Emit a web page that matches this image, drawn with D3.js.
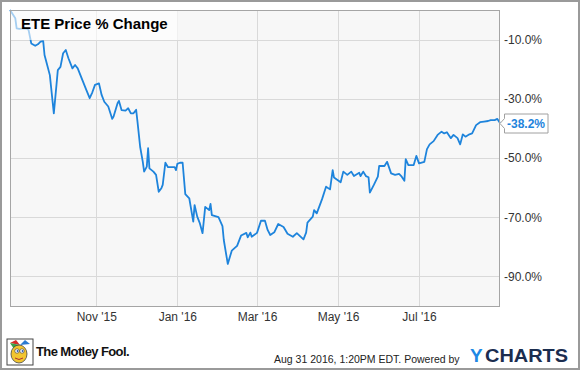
<!DOCTYPE html>
<html>
<head>
<meta charset="utf-8">
<script src="https://cdn.jsdelivr.net/npm/d3@7"></script>
<style>
  body { margin: 0; background: #fff; }
  svg { display: block; font-family: "Liberation Sans", Arial, sans-serif; }
</style>
</head>
<body>
<svg width="580" height="371"></svg>
<script>
// ETE price % change
var dates = [
  '2015-08-28','2015-09-01','2015-09-02','2015-09-04','2015-09-07','2015-09-10','2015-09-11','2015-09-12',
  '2015-09-13','2015-09-16','2015-09-18','2015-09-20','2015-09-22','2015-09-23','2015-09-25','2015-09-27',
  '2015-09-30','2015-10-02','2015-10-03','2015-10-05','2015-10-07','2015-10-09','2015-10-11','2015-10-14',
  '2015-10-16','2015-10-18','2015-10-21','2015-10-24','2015-10-27','2015-10-29','2015-10-31','2015-11-03',
  '2015-11-05','2015-11-07','2015-11-10','2015-11-13','2015-11-14','2015-11-17','2015-11-18','2015-11-20',
  '2015-11-23','2015-11-25','2015-11-27','2015-11-29','2015-12-01','2015-12-02','2015-12-04','2015-12-06',
  '2015-12-07','2015-12-09','2015-12-10','2015-12-11','2015-12-14','2015-12-16','2015-12-18','2015-12-20',
  '2015-12-21','2015-12-23','2015-12-25','2015-12-28','2015-12-30','2015-12-31','2016-01-01','2016-01-03',
  '2016-01-05','2016-01-07','2016-01-10','2016-01-13','2016-01-14','2016-01-16','2016-01-18','2016-01-20',
  '2016-01-22','2016-01-25','2016-01-26','2016-01-27','2016-02-01','2016-02-04','2016-02-05','2016-02-08',
  '2016-02-11','2016-02-15','2016-02-18','2016-02-22','2016-02-23','2016-02-25','2016-02-26','2016-03-01',
  '2016-03-04','2016-03-07','2016-03-09','2016-03-11','2016-03-14','2016-03-17','2016-03-21','2016-03-24',
  '2016-03-28','2016-03-31','2016-04-05','2016-04-07','2016-04-08','2016-04-12','2016-04-13','2016-04-15',
  '2016-04-19','2016-04-22','2016-04-25','2016-04-27','2016-04-28','2016-05-03','2016-05-05','2016-05-08',
  '2016-05-11','2016-05-13','2016-05-17','2016-05-18','2016-05-20','2016-05-22','2016-05-24','2016-05-25',
  '2016-05-28','2016-05-31','2016-06-01','2016-06-05','2016-06-07','2016-06-10','2016-06-13','2016-06-16',
  '2016-06-18','2016-06-20','2016-06-21','2016-06-23','2016-06-27','2016-06-29','2016-07-01','2016-07-05',
  '2016-07-07','2016-07-09','2016-07-12','2016-07-15','2016-07-18','2016-07-20','2016-07-22','2016-07-25',
  '2016-07-27','2016-07-30','2016-08-01','2016-08-03','2016-08-05','2016-08-08','2016-08-10','2016-08-13',
  '2016-08-16','2016-08-19','2016-08-22','2016-08-24','2016-08-27','2016-08-29','2016-08-31'
];
var changes = [
  0, -2.8, -6.2, -6.4, -6.2, -6.4, -6.8, -9.0,
  -11.3, -12.1, -11.6, -10.7, -10.5, -15.2, -18.6, -22.0,
  -34.9, -25.3, -20.3, -19.2, -14.6, -13.5, -16.3, -19.7,
  -18.6, -19.7, -23.1, -26.5, -29.8, -27.8, -25.3, -24.8,
  -28.7, -31.0, -32.6, -36.8, -36.0, -31.5, -30.7, -33.8,
  -34.0, -33.2, -34.9, -34.9, -33.7, -37.7, -46.2, -51.3,
  -54.6, -52.9, -46.7, -53.5, -54.6, -55.7, -61.4, -60.2,
  -59.1, -51.6, -53.1, -53.1, -53.1, -54.1, -52.0, -51.6,
  -51.6, -62.2, -63.6, -71.5, -65.9, -69.8, -72.1, -75.4,
  -66.5, -67.6, -65.5, -69.3, -70.0, -73.0, -77.7, -85.8,
  -81.3, -79.7, -76.2, -75.3, -76.8, -75.2, -76.6, -75.3,
  -71.2, -71.2, -74.3, -76.0, -75.1, -72.3, -73.3, -75.6,
  -76.6, -75.4, -77.5, -75.2, -71.8, -69.8, -67.6, -68.7,
  -63.9, -59.7, -60.6, -54.1, -56.6, -58.2, -54.6, -55.7,
  -54.6, -56.1, -55.0, -56.1, -54.6, -56.1, -56.5, -61.7,
  -59.1, -56.3, -52.7, -52.7, -51.3, -55.2, -55.7, -55.4,
  -56.3, -57.7, -50.4, -52.4, -52.4, -49.3, -51.8, -51.3,
  -47.0, -45.4, -44.3, -42.2, -41.1, -41.7, -41.3, -43.3,
  -42.2, -43.3, -45.4, -42.0, -42.8, -42.0, -41.7, -38.9,
  -37.9, -37.7, -37.5, -37.2, -37.2, -36.8, -38.2
];
var yTicks = [-10, -30, -50, -70, -90];
var xTicks = ['2015-11-01', '2016-01-01', '2016-03-01', '2016-05-01', '2016-07-01'];
var title = 'ETE Price % Change';

var parse = d3.timeParse('%Y-%m-%d');
var data = dates.map(function(d, i) { return { date: parse(d), value: changes[i] }; });

var svg = d3.select('svg'),
  plotL = 10, plotR = 500, plotT = 10, plotB = 306;

var x = d3.scaleTime().domain([parse('2015-08-28'), parse('2016-08-31')]).range([plotL, plotR]);
var y = d3.scaleLinear().domain([-100, 0]).range([plotB, plotT]);

// outer frame
svg.append('rect')
  .attr('x', 1).attr('y', 1).attr('width', 578).attr('height', 368)
  .attr('fill', '#fff').attr('stroke', '#9a9a9a').attr('stroke-width', 2);

// plot background
svg.append('rect')
  .attr('x', plotL).attr('y', plotT).attr('width', plotR - plotL).attr('height', plotB - plotT)
  .attr('fill', '#f7f7f7');

// grid
svg.append('g').selectAll('line').data(yTicks).enter().append('line')
  .attr('x1', plotL).attr('x2', plotR)
  .attr('y1', function(d) { return Math.round(y(d)) + 0.5; })
  .attr('y2', function(d) { return Math.round(y(d)) + 0.5; })
  .attr('stroke', '#d9d9d9');
svg.append('g').selectAll('line').data(xTicks).enter().append('line')
  .attr('y1', plotT).attr('y2', plotB)
  .attr('x1', function(d) { return Math.round(x(parse(d))) + 0.5; })
  .attr('x2', function(d) { return Math.round(x(parse(d))) + 0.5; })
  .attr('stroke', '#d9d9d9');

// price line
var line = d3.line()
  .x(function(d) { return x(d.date); })
  .y(function(d) { return y(d.value); });

svg.append('path')
  .datum(data)
  .attr('fill', 'none')
  .attr('stroke', '#1e84dc')
  .attr('stroke-width', 1.8)
  .attr('stroke-linejoin', 'round')
  .attr('d', line);

// title with a pale backing
svg.append('rect')
  .attr('x', plotL + 1).attr('y', plotT + 1).attr('width', 167).attr('height', 29)
  .attr('fill', '#fff').attr('opacity', 0.6);
svg.append('text')
  .attr('x', 21).attr('y', 28.5)
  .attr('font-size', 15).attr('font-weight', 'bold').attr('fill', '#000')
  .text(title);

// plot border
svg.append('rect')
  .attr('x', plotL + 0.5).attr('y', plotT + 0.5).attr('width', plotR - plotL - 1).attr('height', plotB - plotT)
  .attr('fill', 'none').attr('stroke', '#a5a5a5');

// y axis on the right
var yAxis = d3.axisRight(y)
  .tickValues(yTicks)
  .tickSize(0)
  .tickPadding(4)
  .tickFormat(function(d) { return d.toFixed(1) + '%'; });
svg.append('g')
  .attr('transform', 'translate(' + plotR + ',0)')
  .call(yAxis)
  .call(function(g) { g.select('.domain').remove(); })
  .selectAll('text')
  .attr('font-size', 12).attr('fill', '#333');
svg.selectAll('.tick text').attr('font-family', 'Liberation Sans, Arial, sans-serif');

// x axis
var xAxis = d3.axisBottom(x)
  .tickValues(xTicks.map(parse))
  .tickSize(0)
  .tickPadding(6)
  .tickFormat(d3.timeFormat("%b '%y"));
svg.append('g')
  .attr('transform', 'translate(0,' + plotB + ')')
  .call(xAxis)
  .call(function(g) { g.select('.domain').remove(); })
  .selectAll('text')
  .attr('font-size', 12).attr('fill', '#333')
  .attr('font-family', 'Liberation Sans, Arial, sans-serif');

// last value flag
var last = data[data.length - 1];
var cy = Math.round(y(last.value)) + 0.5;
var flag = svg.append('g').attr('transform', 'translate(' + plotR + ',' + cy + ')');
flag.append('path')
  .attr('d', 'M0,0 L4.5,-5 L4.5,-9.5 L48,-9.5 L48,9.5 L4.5,9.5 L4.5,5 Z')
  .attr('fill', '#fff').attr('stroke', '#a0a0a0');
flag.append('text')
  .attr('x', 7).attr('y', 4.5)
  .attr('font-size', 12).attr('font-weight', 'bold').attr('fill', '#1e84dc')
  .text(last.value.toFixed(1) + '%');

// footer: Motley Fool mark
var logo = svg.append('g').attr('transform', 'translate(7,339)');
logo.append('rect').attr('width', 26).attr('height', 26).attr('fill', '#fff').attr('stroke', '#444');
logo.append('path').attr('d', 'M3,4 L9,1 L13,6 Z').attr('fill', '#d62b2b');
logo.append('path').attr('d', 'M13,6 L18,1 L23,5 Z').attr('fill', '#2a7bd1');
logo.append('path').attr('d', 'M3,4 L13,6 L7,10 Z').attr('fill', '#3aa34a');
logo.append('ellipse').attr('cx', 12).attr('cy', 15).attr('rx', 8).attr('ry', 9).attr('fill', '#f2c530').attr('stroke', '#444').attr('stroke-width', 0.8);
logo.append('circle').attr('cx', 10).attr('cy', 12).attr('r', 2.2).attr('fill', '#fff').attr('stroke', '#333').attr('stroke-width', 0.6);
logo.append('circle').attr('cx', 15).attr('cy', 12).attr('r', 2.2).attr('fill', '#fff').attr('stroke', '#333').attr('stroke-width', 0.6);
logo.append('circle').attr('cx', 10.5).attr('cy', 12).attr('r', 0.9).attr('fill', '#2a5bb0');
logo.append('circle').attr('cx', 15.5).attr('cy', 12).attr('r', 0.9).attr('fill', '#2a5bb0');
logo.append('path').attr('d', 'M8,19 Q12,22 16,19').attr('fill', 'none').attr('stroke', '#b03030').attr('stroke-width', 1);

svg.append('text')
  .attr('x', 36).attr('y', 356)
  .attr('font-size', 13).attr('font-weight', 'bold').attr('fill', '#111')
  .attr('letter-spacing', -0.6)
  .text('The Motley Fool.');

// footer: timestamp and YCharts
svg.append('text')
  .attr('x', 274).attr('y', 362.5)
  .attr('font-size', 10.5).attr('fill', '#222')
  .text('Aug 31 2016, 1:20PM EDT.  Powered by');

svg.append('text')
  .attr('x', 470).attr('y', 362)
  .attr('font-size', 19).attr('font-weight', 'bold').attr('fill', '#1e88e5')
  .text('Y');
svg.append('text')
  .attr('x', 485).attr('y', 362)
  .attr('font-size', 19).attr('font-weight', 'bold').attr('fill', '#1b2d4f')
  .attr('textLength', 83).attr('lengthAdjust', 'spacingAndGlyphs')
  .text('CHARTS');
</script>
</body>
</html>
